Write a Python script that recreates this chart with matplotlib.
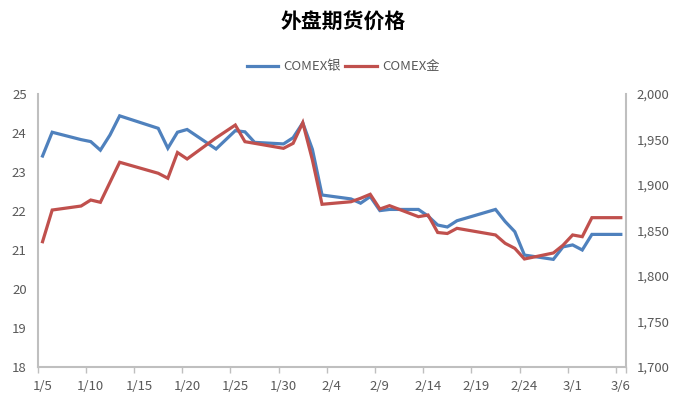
import matplotlib
matplotlib.use("Agg")
import matplotlib.pyplot as plt
import numpy as np
import datetime as dt

plt.rcParams['font.family'] = ['Noto Sans CJK SC', 'DejaVu Sans']

dates = ["1/5", "1/6", "1/9", "1/10", "1/11", "1/12", "1/13", "1/17", "1/18", "1/19",
         "1/20", "1/23", "1/25", "1/26", "1/27", "1/30", "1/31", "2/1", "2/2", "2/3",
         "2/6", "2/7", "2/8", "2/9", "2/10", "2/13", "2/14", "2/15", "2/16", "2/17",
         "2/21", "2/22", "2/23", "2/24", "2/27", "2/28", "3/1", "3/2", "3/3", "3/6"]
silver = [23.41, 24.02, 23.83, 23.78, 23.56, 23.95, 24.44, 24.12, 23.61, 24.02,
          24.09, 23.59, 24.06, 24.03, 23.76, 23.72, 23.88, 24.26, 23.58, 22.41,
          22.31, 22.20, 22.37, 22.01, 22.04, 22.04, 21.87, 21.64, 21.59, 21.75,
          22.04, 21.73, 21.47, 20.87, 20.76, 21.08, 21.13, 21.00, 21.40, 21.40]
gold = [1837.7, 1872.5, 1876.9, 1883.5, 1881.0, 1903.0, 1925.0, 1912.9, 1907.4, 1935.7,
        1928.6, 1951.8, 1965.9, 1947.6, 1945.8, 1940.3, 1945.8, 1968.5, 1927.5, 1878.8,
        1881.6, 1885.4, 1889.8, 1873.6, 1877.3, 1865.2, 1867.0, 1847.8, 1846.7, 1852.4,
        1845.1, 1835.9, 1830.4, 1818.7, 1825.3, 1833.8, 1845.1, 1843.2, 1864.1, 1864.1]
tick_labels = ["1/5", "1/10", "1/15", "1/20", "1/25", "1/30", "2/4", "2/9", "2/14",
               "2/19", "2/24", "3/1", "3/6"]
title = "外盘期货价格"
names = ["COMEX银", "COMEX金"]

start = dt.date(2023, 1, 5)
def day_index(s):
    m, d = map(int, s.split("/"))
    return (dt.date(2023, m, d) - start).days

x = np.array([day_index(s) for s in dates])
tick_pos = [day_index(s) for s in tick_labels]

blue = "#4f81bd"
red = "#c0504d"
gray = "#bfbfbf"
tcol = "#595959"

fig = plt.figure(figsize=(6.86, 4.0), dpi=100)
ax = fig.add_axes([0.055, 0.0825, 0.857, 0.6825])
ax2 = ax.twinx()

l1, = ax.plot(x, silver, color=blue, lw=2.3, solid_joinstyle='miter', label=names[0])
l2, = ax2.plot(x, gold, color=red, lw=2.3, solid_joinstyle='miter', label=names[1])

ax.set_xlim(-0.5, 60.5)
ax.set_ylim(18, 25)
ax2.set_ylim(1700, 2000)
ax.set_yticks(range(18, 26))
ax2.set_yticks(range(1700, 2001, 50))
ax2.set_yticklabels([f"{v:,}" for v in range(1700, 2001, 50)])

ax.set_xticks(tick_pos)
ax.set_xticklabels(tick_labels)
ax.set_xticks([p - 0.5 for p in tick_pos] + [60.5], minor=True)
ax.tick_params(axis='x', which='major', length=0, pad=9, labelsize=9.5, labelcolor=tcol)
ax.tick_params(axis='x', which='minor', length=4, color=gray, width=1, direction='out')
ax.tick_params(axis='y', length=0, labelsize=9.5, labelcolor=tcol, pad=8)
ax2.tick_params(axis='y', length=0, labelsize=9.5, labelcolor=tcol, pad=8)

for a in (ax, ax2):
    a.spines['top'].set_visible(False)
    for s in ('left', 'right', 'bottom'):
        a.spines[s].set_color(gray)
        a.spines[s].set_linewidth(1.5)
ax.spines['right'].set_visible(False)
ax2.spines['left'].set_visible(False)
ax2.spines['bottom'].set_visible(False)

fig.text(0.5, 0.945, title, ha='center', va='center', fontsize=15, fontweight='bold', color='black')
fig.legend([l1, l2], names, loc='center', bbox_to_anchor=(0.5, 0.833), ncol=2, frameon=False,
           fontsize=9.5, labelcolor=tcol, handlelength=2.4, handletextpad=0.4, columnspacing=0.3)

fig.savefig("out.png", dpi=100)
